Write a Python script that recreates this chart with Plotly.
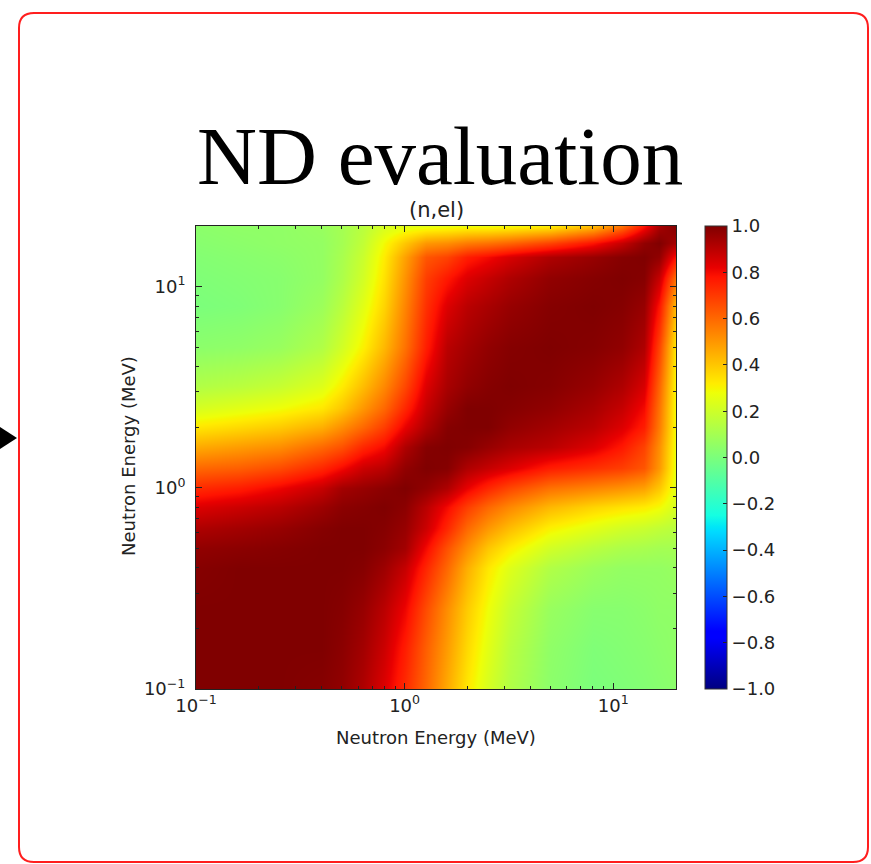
import math
import plotly.graph_objects as go

# Energy grid (MeV) shared by both axes of the correlation matrix
energies = [0.1, 0.16, 0.25, 0.4, 0.5, 0.63, 0.8, 1.0, 1.26, 1.6,
            2.0, 2.5, 3.2, 5.0, 8.0, 11.0, 14.0, 16.5, 20.0]

# Lower triangle of the (n,el) correlation matrix, row i holds C(E_i, E_j), j <= i
corr_lower = [
    [1.0],
    [1.0, 1.0],
    [1.0, 1.0, 1.0],
    [0.99, 1.0, 1.0, 1.0],
    [0.97, 0.98, 0.99, 1.0, 1.0],
    [0.92, 0.94, 0.96, 0.99, 1.0, 1.0],
    [0.84, 0.87, 0.90, 0.95, 0.98, 0.99, 1.0],
    [0.73, 0.76, 0.81, 0.88, 0.94, 0.96, 0.98, 1.0],
    [0.60, 0.62, 0.66, 0.74, 0.80, 0.87, 0.90, 0.97, 1.0],
    [0.46, 0.49, 0.52, 0.60, 0.65, 0.74, 0.80, 0.92, 0.99, 1.0],
    [0.33, 0.36, 0.39, 0.45, 0.52, 0.60, 0.69, 0.82, 0.92, 0.99, 1.0],
    [0.22, 0.25, 0.28, 0.33, 0.40, 0.50, 0.60, 0.74, 0.88, 0.96, 1.0, 1.0],
    [0.13, 0.15, 0.18, 0.24, 0.32, 0.42, 0.53, 0.67, 0.84, 0.93, 0.97, 0.99, 1.0],
    [0.04, 0.05, 0.07, 0.13, 0.21, 0.31, 0.43, 0.58, 0.76, 0.90, 0.94, 0.97, 0.99, 1.0],
    [0.00, 0.01, 0.03, 0.08, 0.15, 0.25, 0.37, 0.54, 0.72, 0.84, 0.90, 0.93, 0.96, 0.99, 1.0],
    [0.01, 0.02, 0.03, 0.06, 0.12, 0.21, 0.34, 0.51, 0.69, 0.77, 0.84, 0.88, 0.92, 0.97, 0.99, 1.0],
    [0.02, 0.03, 0.04, 0.06, 0.11, 0.19, 0.32, 0.48, 0.64, 0.68, 0.76, 0.80, 0.85, 0.92, 0.96, 0.99, 1.0],
    [0.03, 0.04, 0.05, 0.06, 0.10, 0.17, 0.29, 0.40, 0.50, 0.52, 0.56, 0.58, 0.61, 0.68, 0.78, 0.88, 0.97, 1.0],
    [0.04, 0.05, 0.05, 0.07, 0.10, 0.15, 0.22, 0.25, 0.26, 0.27, 0.28, 0.28, 0.29, 0.32, 0.42, 0.58, 0.78, 0.93, 1.0],
]

cbar_ticks = [-1.0, -0.8, -0.6, -0.4, -0.2, 0.0, 0.2, 0.4, 0.6, 0.8, 1.0]
major_ticks = [0.1, 1, 10]
major_text = ["10<sup>\u22121</sup>", "10<sup>0</sup>", "10<sup>1</sup>"]
minor_ticks = [0.2, 0.3, 0.4, 0.5, 0.6, 0.7, 0.8, 0.9,
               2, 3, 4, 5, 6, 7, 8, 9, 20]

# Symmetric matrix from the stored triangle
n = len(energies)
z = [[corr_lower[max(i, j)][min(i, j)] for j in range(n)] for i in range(n)]

# matplotlib "jet"
jet = [
    [0.0, "rgb(0,0,128)"], [0.11, "rgb(0,0,255)"], [0.125, "rgb(0,0,255)"],
    [0.34, "rgb(0,219,255)"], [0.35, "rgb(0,230,247)"], [0.375, "rgb(21,255,226)"],
    [0.64, "rgb(238,255,8)"], [0.65, "rgb(247,245,0)"], [0.66, "rgb(255,236,0)"],
    [0.89, "rgb(255,19,0)"], [0.91, "rgb(232,0,0)"], [1.0, "rgb(128,0,0)"],
]

W, H = 871, 864
px = lambda x: x / W
py = lambda y: 1 - y / H

# plot frame in pixels
X0, X1, Y0, Y1 = 196, 676, 226, 689

TXT = "#222"
tick_font = dict(family="DejaVu Sans", size=18, color=TXT)

fig = go.Figure()
fig.add_trace(go.Heatmap(
    x=energies, y=energies, z=z,
    zmin=-1, zmax=1, colorscale=jet, zsmooth="best",
    hoverinfo="skip",
    colorbar=dict(
        x=px(705), xanchor="left", xpad=0,
        y=py(Y1), yanchor="bottom", ypad=0,
        len=Y1 - Y0, lenmode="pixels",
        thickness=22, thicknessmode="pixels",
        outlinewidth=1, outlinecolor="#333",
        tickmode="array", tickvals=cbar_ticks, tickformat=".1f",
        tickprefix="\u2009",
        ticks="inside", ticklen=4, tickcolor=TXT,
        tickfont=tick_font,
    ),
))

axis_common = dict(
    type="log", showgrid=False, zeroline=False, automargin=False,
    showline=True, linecolor="#222", linewidth=1, mirror="ticks",
    ticks="inside", ticklen=6, tickcolor="#222",
    tickmode="array", tickvals=major_ticks, ticktext=major_text,
    tickfont=tick_font,
    minor=dict(ticks="inside", ticklen=3, tickcolor="#222",
               tickmode="array", tickvals=minor_ticks, showgrid=False),
    range=[-1, math.log10(20)],
)

fig.update_layout(
    width=W, height=H,
    margin=dict(l=0, r=0, t=0, b=0, pad=0, autoexpand=False),
    paper_bgcolor="white", plot_bgcolor="white",
    xaxis=dict(axis_common, domain=[px(X0), px(X1)]),
    yaxis=dict(axis_common, domain=[py(Y1), py(Y0)], ticklabelstandoff=6),
    showlegend=False,
)

# Rounded red panel border
L, T, R, B, r = 19, 13, 868, 862, 15
border = (
    f"M {px(L + r)},{py(T)} L {px(R - r)},{py(T)} "
    f"Q {px(R)},{py(T)} {px(R)},{py(T + r)} "
    f"L {px(R)},{py(B - r)} Q {px(R)},{py(B)} {px(R - r)},{py(B)} "
    f"L {px(L + r)},{py(B)} Q {px(L)},{py(B)} {px(L)},{py(B - r)} "
    f"L {px(L)},{py(T + r)} Q {px(L)},{py(T)} {px(L + r)},{py(T)} Z"
)
fig.add_shape(type="path", path=border, xref="paper", yref="paper",
              line=dict(color="rgb(255,30,30)", width=2))

# Incoming arrow head on the left edge
arrow = f"M {px(0)},{py(427)} L {px(17)},{py(438)} L {px(0)},{py(449)} Z"
fig.add_shape(type="path", path=arrow, xref="paper", yref="paper",
              fillcolor="black", line=dict(color="black", width=0))

fig.add_annotation(text="ND evaluation", x=px(440), y=py(156),
                   xref="paper", yref="paper", xanchor="center", yanchor="middle",
                   showarrow=False,
                   font=dict(family="Liberation Serif", size=83, color="black"))
fig.add_annotation(text="(n,el)", x=px((X0 + X1) / 2), y=py(210),
                   xref="paper", yref="paper", xanchor="center", yanchor="middle",
                   showarrow=False,
                   font=dict(family="DejaVu Sans", size=21, color=TXT))
fig.add_annotation(text="Neutron Energy (MeV)", x=px((X0 + X1) / 2), y=py(737),
                   xref="paper", yref="paper", xanchor="center", yanchor="middle",
                   showarrow=False,
                   font=dict(family="DejaVu Sans", size=18, color=TXT))
fig.add_annotation(text="Neutron Energy (MeV)", x=px(128), y=py(456),
                   xref="paper", yref="paper", xanchor="center", yanchor="middle",
                   textangle=-90, showarrow=False,
                   font=dict(family="DejaVu Sans", size=18, color=TXT))

fig.write_html("out.html")
